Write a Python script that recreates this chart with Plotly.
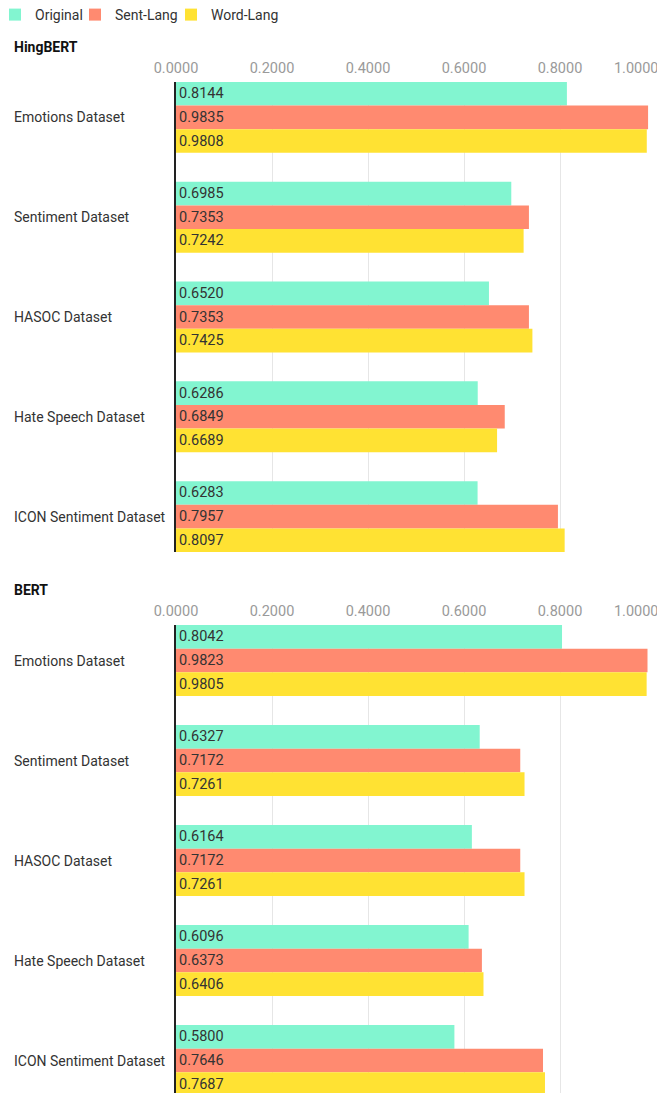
import plotly.graph_objects as go

categories = ["Emotions Dataset", "Sentiment Dataset", "HASOC Dataset",
              "Hate Speech Dataset", "ICON Sentiment Dataset"]
series_names = ["Original", "Sent-Lang", "Word-Lang"]
colors = ["#82f5d0", "#ff8a70", "#ffe233"]

hing_original = [0.8144, 0.6985, 0.6520, 0.6286, 0.6283]
hing_sent = [0.9835, 0.7353, 0.7353, 0.6849, 0.7957]
hing_word = [0.9808, 0.7242, 0.7425, 0.6689, 0.8097]

bert_original = [0.8042, 0.6327, 0.6164, 0.6096, 0.5800]
bert_sent = [0.9823, 0.7172, 0.7172, 0.6373, 0.7646]
bert_word = [0.9805, 0.7261, 0.7261, 0.6406, 0.7687]

panel_titles = ["HingBERT", "BERT"]
tick_vals = [0, 0.2, 0.4, 0.6, 0.8, 1.0]
tick_text = ["0.0000", "0.2000", "0.4000", "0.6000", "0.8000", "1.0000" + "\u00a0" * 11]

W, H = 657, 1093
L = 176
PW = W - L - 1
FONT = "Roboto, 'Noto Sans', sans-serif"
legend_ids = ["legend", "legend2", "legend3"]
legend_px = [-5, 75, 171]

fig = go.Figure()
idx = list(range(len(categories)))
panels = [(hing_original, hing_sent, hing_word), (bert_original, bert_sent, bert_word)]
for p, data in enumerate(panels):
    xa = "x" if p == 0 else "x2"
    ya = "y" if p == 0 else "y2"
    for s, vals in enumerate(data):
        fig.add_trace(go.Bar(
            x=vals, y=idx, orientation="h", name=series_names[s],
            marker=dict(color=colors[s], line=dict(width=0)),
            texttemplate="%{x:.4f}", textposition="inside", insidetextanchor="start",
            textfont=dict(color="#333333", size=14.5, family=FONT),
            xaxis=xa, yaxis=ya, showlegend=(p == 0), legendgroup=series_names[s],
            legend=legend_ids[s], hoverinfo="skip",
        ))

def py(pix):
    return 1 - pix / H

top_dom = [py(552), py(82)]
bot_dom = [0, py(625)]

xcommon = dict(range=[0, 1.0], side="top", tickvals=tick_vals, ticktext=tick_text,
               tickfont=dict(color="#9a9a9a", size=14.5, family=FONT),
               showgrid=True, gridcolor="#e6e6e6", gridwidth=1, zeroline=False,
               showline=False, ticks="", ticklabelstandoff=5, fixedrange=True,
               ticklabeloverflow="allow")
legend_common = dict(orientation="h", xref="paper", yref="paper", y=1 + 1 / H,
                     xanchor="left", yanchor="top",
                     font=dict(size=14, color="#333333", family=FONT),
                     itemwidth=30, bgcolor="rgba(0,0,0,0)")
fig.update_layout(
    xaxis=dict(**xcommon, domain=[0, 1], anchor="y"),
    xaxis2=dict(**xcommon, domain=[0, 1], anchor="y2"),
    yaxis=dict(domain=top_dom, range=[4.355, -0.355], showticklabels=False,
               showline=True, linecolor="#222222", linewidth=1.5, showgrid=False,
               zeroline=False, ticks="", anchor="x", fixedrange=True),
    yaxis2=dict(domain=bot_dom, range=[4.325, -0.355], showticklabels=False,
                showline=True, linecolor="#222222", linewidth=1.5, showgrid=False,
                zeroline=False, ticks="", anchor="x2", fixedrange=True),
    barmode="group", bargap=0.29, bargroupgap=0,
    width=W, height=H, margin=dict(l=L, r=1, t=0, b=0, autoexpand=False),
    plot_bgcolor="white", paper_bgcolor="white",
    font=dict(family=FONT, color="#333333", size=14),
    legend=dict(**legend_common, x=(legend_px[0] - L) / PW),
    legend2=dict(**legend_common, x=(legend_px[1] - L) / PW),
    legend3=dict(**legend_common, x=(legend_px[2] - L) / PW),
)

left_x = (12 - L) / PW
annots = []
for p, title in enumerate(panel_titles):
    ypix = 47 if p == 0 else 590
    annots.append(dict(text="<b>" + title + "</b>", xref="paper", yref="paper",
                       x=left_x, y=py(ypix), xanchor="left", yanchor="middle",
                       showarrow=False, font=dict(size=14, color="#111111", family=FONT)))
    yref = "y" if p == 0 else "y2"
    for i, c in enumerate(categories):
        annots.append(dict(text=c, xref="paper", yref=yref, x=left_x, y=i,
                           xanchor="left", yanchor="middle", showarrow=False,
                           font=dict(size=14, color="#333333", family=FONT)))
fig.update_layout(annotations=annots)

fig.write_html("out.html", config={"displayModeBar": False},
               post_script="document.body.style.margin='0px';"
                           "document.body.style.overflow='hidden';"
                           "document.documentElement.style.overflow='hidden';")
